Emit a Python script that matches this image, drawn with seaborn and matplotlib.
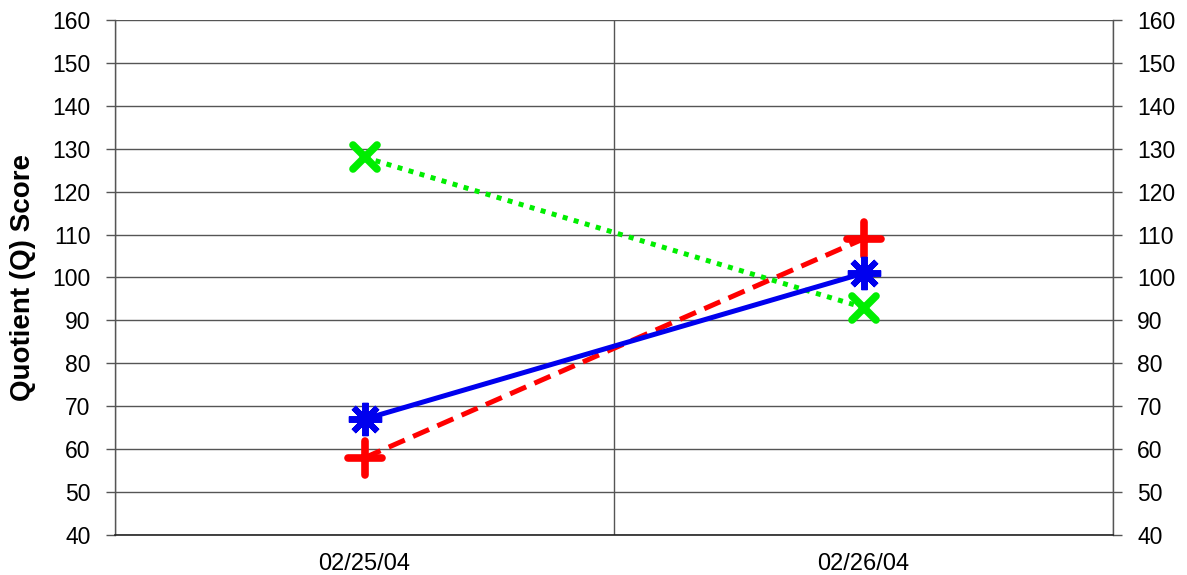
import matplotlib
matplotlib.use("Agg")
import matplotlib.pyplot as plt
import seaborn as sns
import pandas as pd
from matplotlib.ticker import FixedLocator
from matplotlib.markers import MarkerStyle

dates = ["02/25/04", "02/26/04"]
blue_vals = [67, 101]
red_vals = [58, 109]
green_vals = [128, 93]
y_ticks = list(range(40, 161, 10))

sns.set_theme(style="white")
plt.rcParams['font.family'] = ['Liberation Sans', 'DejaVu Sans']

fig = plt.figure(figsize=(11.87, 5.75), dpi=100)
ax = fig.add_axes([115/1187, 1-535/575, (1113-115)/1187, (535-20)/575])

df = pd.DataFrame({"date": dates, "blue": blue_vals, "red": red_vals, "green": green_vals})

GREEN, RED, BLUE = "#00ee00", "#ff0000", "#0000ee"
sns.lineplot(data=df, x="date", y="green", ax=ax, color=GREEN, lw=3.6,
             marker=MarkerStyle("x", capstyle="round"), markersize=17, markeredgewidth=5.5,
             markeredgecolor=GREEN)
ax.lines[-1].set_dashes((1, 1.3))
ax.lines[-1].set_dash_capstyle('butt')
sns.lineplot(data=df, x="date", y="red", ax=ax, color=RED, lw=3.6,
             marker=MarkerStyle("+", capstyle="round"), markersize=24, markeredgewidth=5.5,
             markeredgecolor=RED)
ax.lines[-1].set_dashes((3.5, 1.8))
sns.lineplot(data=df, x="date", y="blue", ax=ax, color=BLUE, lw=3.6,
             marker=MarkerStyle((8, 2, 0), capstyle="round"), markersize=24, markeredgewidth=4.3,
             markeredgecolor=BLUE)

ax.set_xlim(-0.5, 1.5)
ax.set_ylim(40, 160)
ax.yaxis.set_major_locator(FixedLocator(y_ticks))
ax.grid(axis="y", color="#555555", lw=1.0)
ax.xaxis.set_minor_locator(FixedLocator([-0.5, 0.5, 1.5]))
ax.grid(axis="x", which="minor", color="#555555", lw=1.0)
ax.grid(axis="x", which="major", visible=False)
ax.tick_params(axis="x", which="major", length=0, pad=13, labelsize=17, labelcolor="black")
ax.tick_params(axis="x", which="minor", length=18, width=1.0, color="#555555", direction="out")
ax.tick_params(axis="y", length=6.5, width=1.0, color="#555555", direction="out",
               labelsize=16.5, labelcolor="black", pad=11,
               left=True, right=True, labelleft=True, labelright=True)
for s in ["left", "right"]:
    ax.spines[s].set_color("#555555")
    ax.spines[s].set_linewidth(1.0)
ax.spines["bottom"].set_color("#222222")
ax.spines["bottom"].set_linewidth(1.2)
ax.spines["top"].set_visible(False)

ax.set_xlabel("")
ax.set_ylabel("Quotient (Q) Score", fontsize=20, fontweight="bold", color="black", labelpad=12)

fig.savefig("out.png", dpi=100, facecolor="white")
